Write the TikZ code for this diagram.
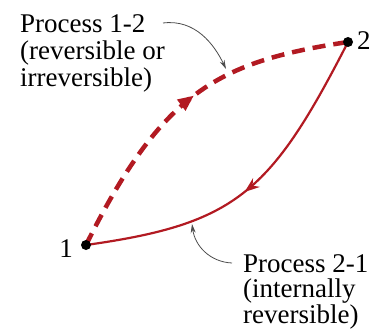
\documentclass[tikz,border=0pt]{standalone}
\usepackage{fontspec}
\setmainfont{Liberation Serif}
\usetikzlibrary{arrows.meta,decorations.markings}
\definecolor{procred}{RGB}{178,26,34}
\begin{document}
\begin{tikzpicture}[x=1pt,y=-1pt,
  lblA/.style={font=\fontsize{27}{27}\selectfont, align=left, inner sep=0, anchor=north west},
  lblB/.style={font=\fontsize{27}{25.5}\selectfont, align=left, inner sep=0, anchor=north west},
  numlbl/.style={font=\fontsize{27}{27}\selectfont, inner sep=0},
  statedot/.style={circle, fill=black, inner sep=0, minimum size=10pt},
  leader/.style={draw=black!70, line width=0.8pt, -{Stealth[length=9pt,width=5pt]}},
  irrev/.style={draw=procred, line width=4.5pt, dash pattern=on 13pt off 8pt,
    postaction={decorate, decoration={markings, mark=at position 0.53 with {\arrow[procred, solid]{Triangle[length=16pt,width=13pt]}}}}},
  rev/.style={draw=procred, line width=2.2pt,
    postaction={decorate, decoration={markings, mark=at position 0.52 with {\arrow[procred]{Stealth[length=15pt,width=11pt]}}}}}
]
\useasboundingbox (0,0) rectangle (371,331);
\coordinate (p1) at (86,245);
\coordinate (p2) at (348,42);
\draw[irrev] (p1) .. controls (162,92) and (218,61.5) .. (p2);
\draw[rev] (p2) .. controls (270.6,193) and (236,224) .. (p1);
\node[statedot] (d1) at (p1) {};
\node[statedot] (d2) at (p2) {};
\node[numlbl, anchor=base east] (n1) at (73,257) {1};
\node[numlbl, anchor=base west] (n2) at (357,50) {2};
\node[lblA] (t12) at (20,14) {Process 1-2\\(reversible or\\irreversible)};
\node[lblB] (t21) at (243,254) {Process 2-1\\(internally\\reversible)};
\coordinate (c1) at (163,23);
\coordinate (q1) at (226,69);
\coordinate (c2) at (232,263);
\coordinate (q2) at (192,224);
\draw[leader] (c1) .. controls (195,19) and (214,44) .. (q1);
\draw[leader] (c2) .. controls (210,262) and (195,246) .. (q2);
\end{tikzpicture}
\end{document}
